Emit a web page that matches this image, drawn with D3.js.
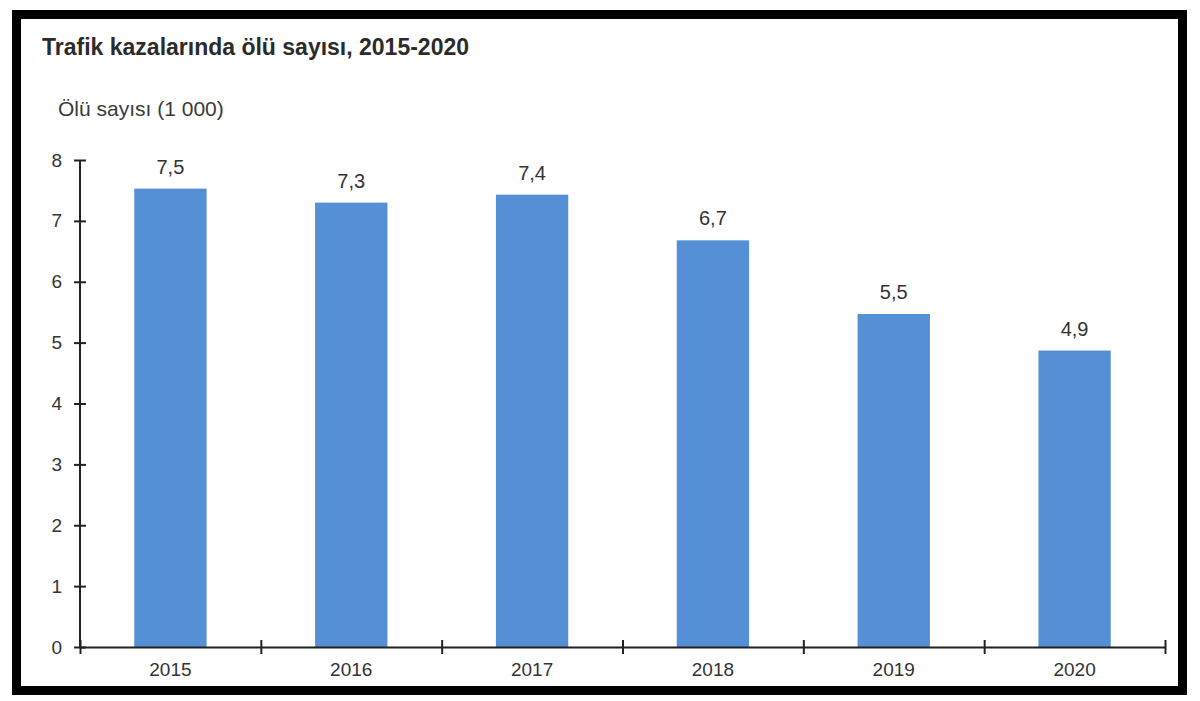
<!DOCTYPE html>
<html>
<head>
<meta charset="utf-8">
<script src="https://cdn.jsdelivr.net/npm/d3@7"></script>
<style>
  html, body { margin: 0; padding: 0; background: #fff; }
  svg { display: block; font-family: "Liberation Sans", Arial, sans-serif; }
</style>
</head>
<body>
<svg id="chart"></svg>
<script>
// data (thousands of deaths)
const years = ["2015", "2016", "2017", "2018", "2019", "2020"];
const deaths = [7.53, 7.30, 7.43, 6.68, 5.47, 4.87];
const yTicks = [0, 1, 2, 3, 4, 5, 6, 7, 8];

const width = 1200;
const height = 701;
const margin = { top: 160, right: 35, bottom: 54, left: 80 };

const svg = d3.select("#chart").attr("width", width).attr("height", height);

// black frame
svg.append("rect")
  .attr("x", 16.5).attr("y", 14.5)
  .attr("width", 1166).attr("height", 676)
  .attr("fill", "#fff")
  .attr("stroke", "#000")
  .attr("stroke-width", 9);

// title + unit label
svg.append("text")
  .attr("x", 42).attr("y", 55)
  .attr("font-size", 23).attr("font-weight", "bold")
  .attr("fill", "#2b2b2b")
  .text("Trafik kazalarında ölü sayısı, 2015-2020");

svg.append("text")
  .attr("x", 58).attr("y", 116)
  .attr("font-size", 21)
  .attr("fill", "#3a3a3a")
  .text("Ölü sayısı (1 000)");

const x = d3.scaleBand()
  .domain(years)
  .range([margin.left, width - margin.right])
  .paddingInner(0.6)
  .paddingOuter(0.3);

const xEdges = d3.scaleLinear()
  .domain([0, years.length])
  .range([margin.left, width - margin.right]);

const y = d3.scaleLinear()
  .domain([0, 8])
  .range([height - margin.bottom, margin.top]);

// bars
svg.append("g")
  .selectAll("rect")
  .data(years)
  .join("rect")
  .attr("x", (d) => x(d))
  .attr("y", (d, i) => y(deaths[i]))
  .attr("width", x.bandwidth())
  .attr("height", (d, i) => y(0) - y(deaths[i]))
  .attr("fill", "#5590d6");

// value labels
svg.append("g")
  .selectAll("text")
  .data(years)
  .join("text")
  .attr("x", (d) => x(d) + x.bandwidth() / 2)
  .attr("y", (d, i) => y(deaths[i]) - 15)
  .attr("text-anchor", "middle")
  .attr("font-size", 20)
  .attr("fill", "#333")
  .text((d, i) => d3.format(".1f")(deaths[i]).replace(".", ","));

// y axis
const yAxis = svg.append("g")
  .attr("transform", `translate(${margin.left},0)`)
  .call(d3.axisLeft(y).tickValues(yTicks).tickFormat(d3.format("d")).tickSize(6).tickPadding(12));
yAxis.selectAll(".tick line").attr("x1", 6).attr("x2", -6);
yAxis.selectAll(".tick text").attr("font-size", 19).attr("fill", "#333");
yAxis.select(".domain").attr("d", `M0,${y(0)}V${y(8)}`);
yAxis.selectAll("path, line").attr("stroke", "#222").attr("stroke-width", 2);
yAxis.attr("font-family", null);

// x axis: boundary ticks crossing the baseline
const xAxis = svg.append("g")
  .attr("transform", `translate(0,${y(0)})`)
  .call(d3.axisBottom(xEdges).ticks(years.length).tickFormat("").tickSize(7).tickSizeOuter(0));
xAxis.selectAll(".tick line").attr("y1", -7).attr("y2", 7);
xAxis.selectAll("path, line").attr("stroke", "#222").attr("stroke-width", 2);

// category labels
const xLabels = svg.append("g")
  .attr("transform", `translate(0,${y(0)})`)
  .call(d3.axisBottom(x).tickSize(0).tickPadding(16));
xLabels.select(".domain").remove();
xLabels.selectAll(".tick text").attr("font-size", 19).attr("fill", "#333");
xLabels.attr("font-family", null);
</script>
</body>
</html>
